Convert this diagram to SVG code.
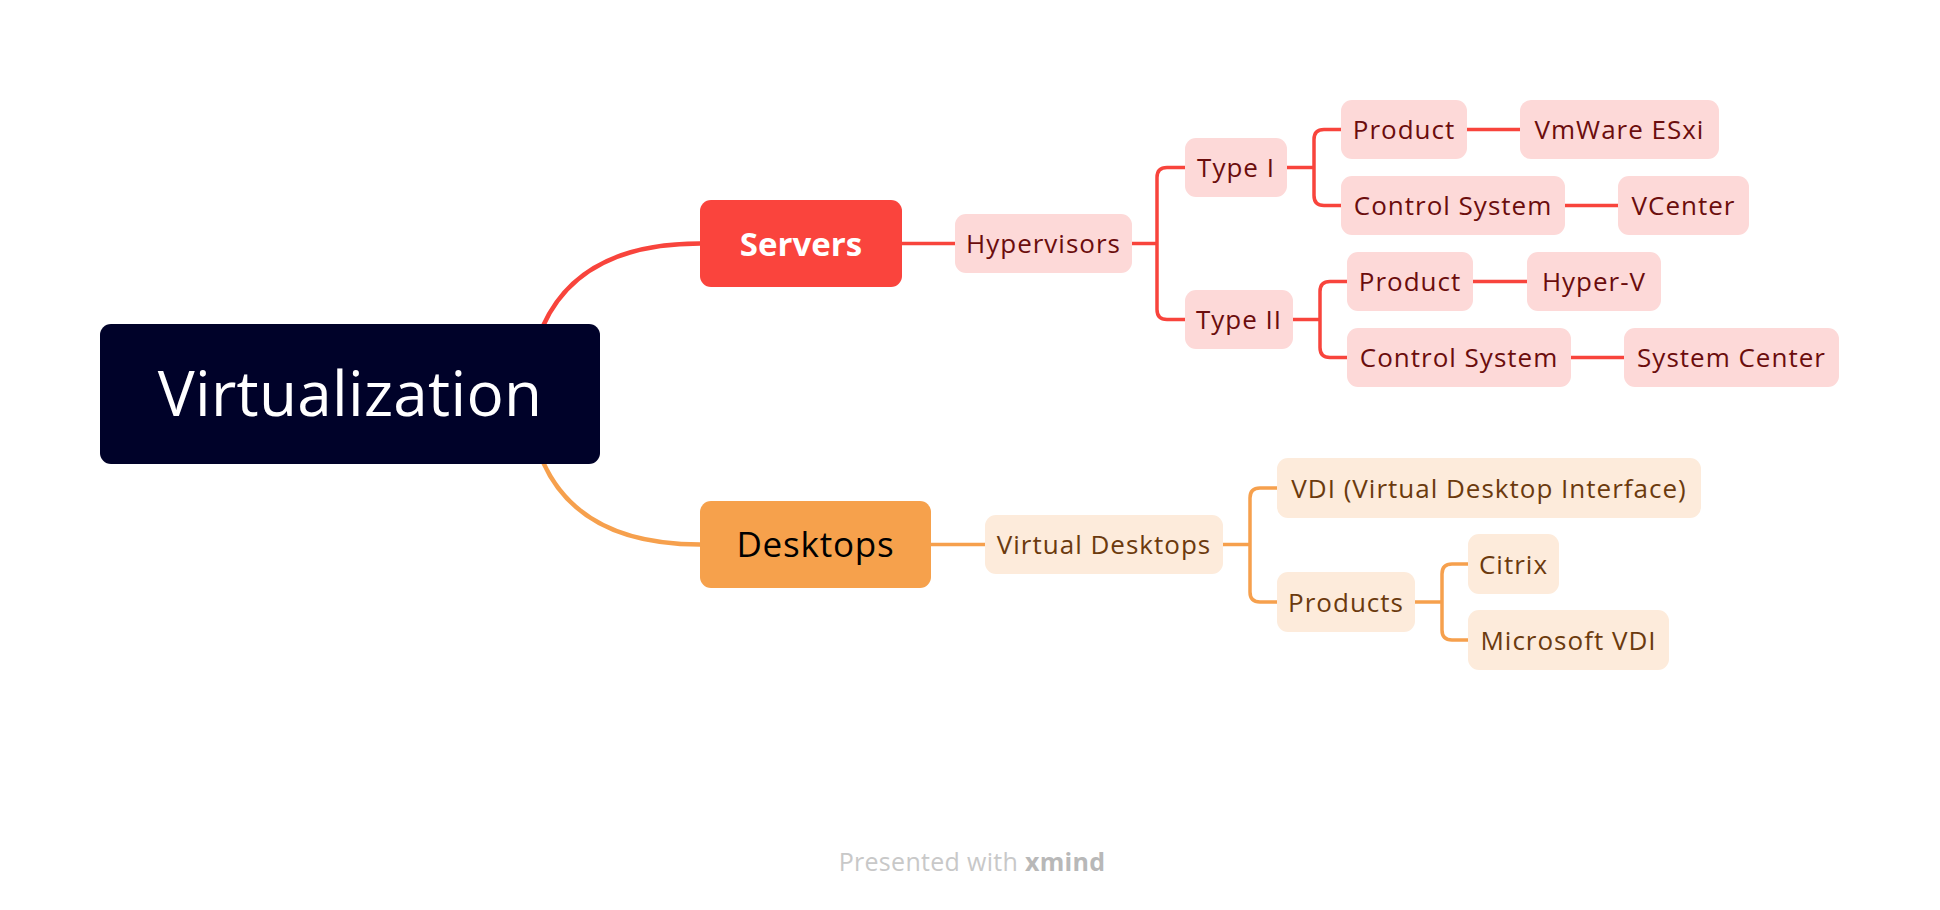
<svg xmlns="http://www.w3.org/2000/svg" width="1940" height="910" viewBox="0 0 1940 910">
<style>
.t{font-family:"Open Sans","Liberation Sans",sans-serif;font-size:26px;letter-spacing:1px;text-anchor:middle}
.r{fill:#fdd9d8}.rt{fill:#6b0d0d}
.o{fill:#fdebdb}.ot{fill:#6b3a0e}
.lr{fill:none;stroke:#f8443c;stroke-width:3.5}
.lo{fill:none;stroke:#f6a04d;stroke-width:3.5}
</style>
<rect width="1940" height="910" fill="#ffffff"/>
<g id="connectors">
<path d="M543 326 Q580 243.5 700 243.5" fill="none" stroke="#f8443c" stroke-width="4.5"/>
<path d="M543 462 Q580 544.5 700 544.5" fill="none" stroke="#f6a04d" stroke-width="4.5"/>
<path class="lr" d="M902 243.5 H955"/>
<path class="lr" d="M1132 243.5 H1157"/>
<path class="lr" d="M1185 167.5 H1167 Q1157 167.5 1157 177.5 V309.5 Q1157 319.5 1167 319.5 H1185"/>
<path class="lr" d="M1287 167.5 H1314"/>
<path class="lr" d="M1341 129.5 H1324 Q1314 129.5 1314 139.5 V195.5 Q1314 205.5 1324 205.5 H1341"/>
<path class="lr" d="M1467 129.5 H1520"/>
<path class="lr" d="M1565 205.5 H1618"/>
<path class="lr" d="M1293 319.5 H1320"/>
<path class="lr" d="M1347 281.5 H1330 Q1320 281.5 1320 291.5 V347.5 Q1320 357.5 1330 357.5 H1347"/>
<path class="lr" d="M1473 281.5 H1527"/>
<path class="lr" d="M1571 357.5 H1624"/>
<path class="lo" d="M931 544.5 H985"/>
<path class="lo" d="M1223 544.5 H1250"/>
<path class="lo" d="M1277 488 H1260 Q1250 488 1250 498 V592 Q1250 602 1260 602 H1277"/>
<path class="lo" d="M1415 602 H1442"/>
<path class="lo" d="M1468 564 H1452 Q1442 564 1442 574 V630 Q1442 640 1452 640 H1468"/>
</g>
<g id="virtualization">
<rect x="100" y="324" width="500" height="140" rx="11" fill="#000229"/>
<text x="350" y="416" font-family="Open Sans,Liberation Sans,sans-serif" font-size="62" letter-spacing="0.3" fill="#ffffff" text-anchor="middle">Virtualization</text>
</g>
<g id="servers">
<rect x="700" y="200" width="202" height="87" rx="11" fill="#fa443d"/>
<text x="801" y="256" font-family="Open Sans,Liberation Sans,sans-serif" font-size="33" font-weight="bold" fill="#ffffff" text-anchor="middle">Servers</text>
</g>
<g id="desktops">
<rect x="700" y="501" width="231" height="87" rx="11" fill="#f6a14c"/>
<text x="815.5" y="557" font-family="Open Sans,Liberation Sans,sans-serif" font-size="35" letter-spacing="0.8" fill="#000000" text-anchor="middle">Desktops</text>
</g>
<g id="hypervisors"><rect class="r" x="955" y="214" width="177" height="59" rx="11"/><text class="t rt" x="1043.5" y="253">Hypervisors</text></g>
<g id="type1"><rect class="r" x="1185" y="138" width="102" height="59" rx="11"/><text class="t rt" x="1236" y="177">Type I</text></g>
<g id="type2"><rect class="r" x="1185" y="290" width="108" height="59" rx="11"/><text class="t rt" x="1239" y="329">Type II</text></g>
<g id="product1"><rect class="r" x="1341" y="100" width="126" height="59" rx="11"/><text class="t rt" x="1404" y="139">Product</text></g>
<g id="vmware"><rect class="r" x="1520" y="100" width="199" height="59" rx="11"/><text class="t rt" x="1619.5" y="139">VmWare ESxi</text></g>
<g id="control1"><rect class="r" x="1341" y="176" width="224" height="59" rx="11"/><text class="t rt" x="1453" y="215">Control System</text></g>
<g id="vcenter"><rect class="r" x="1618" y="176" width="131" height="59" rx="11"/><text class="t rt" x="1683.5" y="215">VCenter</text></g>
<g id="product2"><rect class="r" x="1347" y="252" width="126" height="59" rx="11"/><text class="t rt" x="1410" y="291">Product</text></g>
<g id="hyperv"><rect class="r" x="1527" y="252" width="134" height="59" rx="11"/><text class="t rt" x="1594" y="291">Hyper-V</text></g>
<g id="control2"><rect class="r" x="1347" y="328" width="224" height="59" rx="11"/><text class="t rt" x="1459" y="367">Control System</text></g>
<g id="systemcenter"><rect class="r" x="1624" y="328" width="215" height="59" rx="11"/><text class="t rt" x="1731.5" y="367">System Center</text></g>
<g id="virtualdesktops"><rect class="o" x="985" y="515" width="238" height="59" rx="11"/><text class="t ot" x="1104" y="554">Virtual Desktops</text></g>
<g id="vdi"><rect class="o" x="1277" y="458" width="424" height="60" rx="11"/><text class="t ot" x="1489" y="497.5">VDI (Virtual Desktop Interface)</text></g>
<g id="products"><rect class="o" x="1277" y="572" width="138" height="60" rx="11"/><text class="t ot" x="1346" y="611.5">Products</text></g>
<g id="citrix"><rect class="o" x="1468" y="534" width="91" height="60" rx="11"/><text class="t ot" x="1513.5" y="573.5">Citrix</text></g>
<g id="microsoftvdi"><rect class="o" x="1468" y="610" width="201" height="60" rx="11"/><text class="t ot" x="1568.5" y="649.5">Microsoft VDI</text></g>
<g id="footer">
<text x="972" y="871" font-family="Open Sans,Liberation Sans,sans-serif" font-size="25" letter-spacing="0.3" fill="#c8c8c8" text-anchor="middle">Presented with <tspan font-weight="bold" fill="#b8b8b8">xmind</tspan></text>
</g>
</svg>
